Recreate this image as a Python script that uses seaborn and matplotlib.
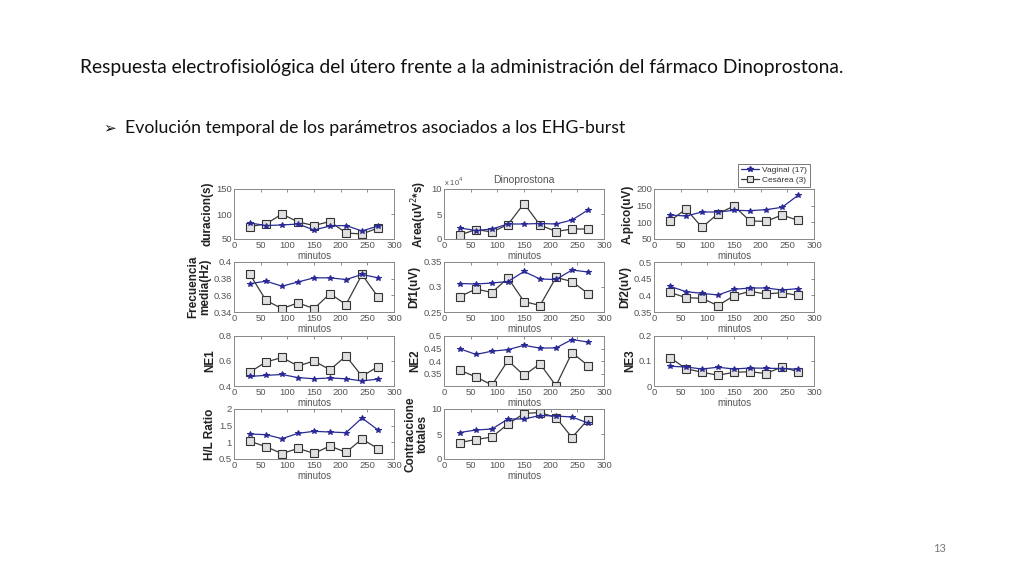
import numpy as np
import pandas as pd
import matplotlib
matplotlib.use("Agg")
import matplotlib.pyplot as plt
import seaborn as sns
from matplotlib.lines import Line2D

# ---------------- data ----------------
minutos = [30, 60, 90, 120, 150, 180, 210, 240, 270]

duracion_vag = [82, 77, 78, 80, 68, 76, 77, 66, 76]
duracion_ces = [75, 80, 100, 84, 77, 85, 62, 60, 72]

area_vag = [2.2, 1.7, 2.0, 3.0, 3.0, 3.1, 3.0, 3.8, 5.8]
area_ces = [0.8, 1.9, 1.4, 2.9, 7.1, 2.8, 1.5, 2.0, 2.0]

apico_vag = [122, 119, 131, 131, 136, 135, 138, 145, 181]
apico_ces = [104, 140, 85, 126, 149, 104, 103, 122, 106]

frec_vag = [0.374, 0.377, 0.371, 0.376, 0.381, 0.381, 0.379, 0.385, 0.381]
frec_ces = [0.385, 0.354, 0.344, 0.351, 0.344, 0.362, 0.349, 0.385, 0.358]

df1_vag = [0.307, 0.306, 0.308, 0.311, 0.331, 0.316, 0.315, 0.334, 0.330]
df1_ces = [0.281, 0.296, 0.289, 0.318, 0.271, 0.263, 0.319, 0.311, 0.287]

df2_vag = [0.427, 0.411, 0.406, 0.401, 0.418, 0.422, 0.422, 0.416, 0.420]
df2_ces = [0.409, 0.393, 0.391, 0.369, 0.399, 0.412, 0.404, 0.408, 0.400]

ne1_vag = [0.477, 0.485, 0.492, 0.467, 0.458, 0.464, 0.458, 0.441, 0.455]
ne1_ces = [0.512, 0.592, 0.628, 0.560, 0.600, 0.530, 0.640, 0.478, 0.555]

ne2_vag = [0.449, 0.427, 0.440, 0.446, 0.463, 0.452, 0.453, 0.486, 0.476]
ne2_ces = [0.364, 0.338, 0.306, 0.403, 0.344, 0.390, 0.303, 0.434, 0.383]

ne3_vag = [0.079, 0.076, 0.068, 0.075, 0.068, 0.072, 0.071, 0.070, 0.067]
ne3_ces = [0.114, 0.069, 0.055, 0.043, 0.055, 0.057, 0.050, 0.076, 0.057]

hl_vag = [1.25, 1.23, 1.11, 1.27, 1.33, 1.31, 1.29, 1.73, 1.37]
hl_ces = [1.03, 0.87, 0.66, 0.82, 0.67, 0.89, 0.70, 1.10, 0.81]

contr_vag = [5.3, 5.8, 6.0, 8.0, 8.0, 8.7, 8.6, 8.4, 7.2]
contr_ces = [3.3, 3.9, 4.4, 7.0, 9.1, 9.3, 8.3, 4.3, 7.9]

series_labels = ["Vaginal (17)", "Cesárea (3)"]

panels = [
    ("duracion(s)", duracion_vag, duracion_ces, (50, 150), [50, 100, 150]),
    ("Area(uV$^2$*s)", area_vag, area_ces, (0, 10), [0, 5, 10]),
    ("A.pico(uV)", apico_vag, apico_ces, (50, 200), [50, 100, 150, 200]),
    ("Frecuencia\nmedia(Hz)", frec_vag, frec_ces, (0.34, 0.40), [0.34, 0.36, 0.38, 0.4]),
    ("Df1(uV)", df1_vag, df1_ces, (0.25, 0.35), [0.25, 0.3, 0.35]),
    ("Df2(uV)", df2_vag, df2_ces, (0.35, 0.5), [0.35, 0.4, 0.45, 0.5]),
    ("NE1", ne1_vag, ne1_ces, (0.4, 0.8), [0.4, 0.6, 0.8]),
    ("NE2", ne2_vag, ne2_ces, (0.302, 0.5), [0.35, 0.4, 0.45, 0.5]),
    ("NE3", ne3_vag, ne3_ces, (0, 0.2), [0, 0.1, 0.2]),
    ("H/L Ratio", hl_vag, hl_ces, (0.5, 2), [0.5, 1, 1.5, 2]),
    ("Contraccione\ntotales", contr_vag, contr_ces, (0, 10), [0, 5, 10]),
]

# ---------------- style ----------------
sns.set_style("white")
plt.rcParams["font.family"] = ["Liberation Sans", "DejaVu Sans"]

VAG_COLOR = "#2a2a96"
CES_COLOR = "#3a3a3a"
TICK_COLOR = "#555555"

W, H = 1024, 576
fig = plt.figure(figsize=(W / 100, H / 100), dpi=100)
fig.patch.set_facecolor("white")

col_left = [234, 444, 654]
row_bottom = [239, 312, 386, 459]
ax_w, ax_h = 160, 50


def fmt(v):
    return "%g" % v


for i, (ylab, yv, yc, ylim, yt) in enumerate(panels):
    r, c = divmod(i, 3)
    left = col_left[c] / W
    bottom = 1 - row_bottom[r] / H
    ax = fig.add_axes([left, bottom, ax_w / W, ax_h / H])
    df = pd.DataFrame({"minutos": minutos * 2,
                       "valor": list(yv) + list(yc),
                       "grupo": [series_labels[0]] * len(minutos) + [series_labels[1]] * len(minutos)})
    sns.lineplot(data=df[df.grupo == series_labels[1]], x="minutos", y="valor", ax=ax,
                 color=CES_COLOR, lw=0.9, marker="s", markersize=5.5,
                 markerfacecolor="#e0e0e0", markeredgecolor="#333333", markeredgewidth=0.8,
                 legend=False, zorder=2)
    sns.lineplot(data=df[df.grupo == series_labels[0]], x="minutos", y="valor", ax=ax,
                 color=VAG_COLOR, lw=0.9, marker="*", markersize=4,
                 markerfacecolor=VAG_COLOR, markeredgecolor=VAG_COLOR,
                 legend=False, zorder=3)
    ax.set_xlim(0, 300)
    ax.set_xticks([0, 50, 100, 150, 200, 250, 300])
    ax.set_ylim(*ylim)
    ax.set_yticks(yt)
    ax.set_yticklabels([fmt(v) for v in yt])
    ax.tick_params(direction="in", length=2.5, width=0.6, top=True, right=True,
                   labelsize=6.8, labelcolor=TICK_COLOR, color="#777777", pad=1.5)
    for sp in ax.spines.values():
        sp.set_color("#888888")
        sp.set_linewidth(0.7)
    ax.set_xlabel("minutos", fontsize=7, color="#555555", labelpad=1)
    ax.set_ylabel(ylab, fontsize=8.5, fontweight="bold", color="#222222",
                  labelpad=2, linespacing=1.0)
    if i == 1:
        ax.text(0.0, 1.03, "x 10$^4$", transform=ax.transAxes, fontsize=5.5,
                color="#555555", ha="left", va="bottom")
        ax.set_title("Dinoprostona", fontsize=7.5, color="#555555", pad=4)

# legend
handles = [
    Line2D([0], [0], color=VAG_COLOR, lw=0.9, marker="*", markersize=4,
           markerfacecolor=VAG_COLOR, markeredgecolor=VAG_COLOR),
    Line2D([0], [0], color=CES_COLOR, lw=0.9, marker="s", markersize=5,
           markerfacecolor="#e0e0e0", markeredgecolor="#333333", markeredgewidth=0.8),
]
leg = fig.legend(handles, series_labels, loc="upper left",
                 bbox_to_anchor=(738 / W, 1 - 164 / H), fontsize=6,
                 frameon=True, fancybox=False, handlelength=2.2, handletextpad=0.4,
                 borderpad=0.3, labelspacing=0.25, borderaxespad=0)
leg.get_frame().set_edgecolor("#555555")
leg.get_frame().set_linewidth(0.7)
for t in leg.get_texts():
    t.set_color("#333333")

# slide texts
fig.text(80 / W, 1 - 68 / H,
         "Respuesta electrofisiológica del útero frente a la administración del fármaco Dinoprostona.",
         fontsize=13.85, family=["Lato", "DejaVu Sans"], color="#111111",
         ha="left", va="center")
fig.text(103 / W, 1 - 128 / H, "➢", fontsize=11, family=["DejaVu Sans"],
         color="#111111", ha="left", va="center")
fig.text(125 / W, 1 - 128 / H,
         "Evolución temporal de los parámetros asociados a los EHG-burst",
         fontsize=12.7, family=["Lato", "DejaVu Sans"], color="#111111",
         ha="left", va="center")
fig.text(940 / W, 1 - 549 / H, "13", fontsize=8, color="#777777",
         family=["Lato", "DejaVu Sans"], ha="center", va="center")

fig.savefig("out.png", dpi=100, facecolor="white")
